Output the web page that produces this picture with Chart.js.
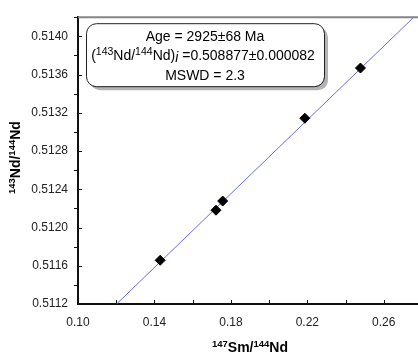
<!DOCTYPE html>
<html><head><meta charset="utf-8">
<script src="https://cdn.jsdelivr.net/npm/chart.js@4.4.1/dist/chart.umd.min.js"></script>
<style>html,body{margin:0;padding:0;overflow:hidden;background:#fff}#wrap{width:430px;height:356px;position:relative}</style>
</head><body><div id="wrap"><canvas id="c"></canvas></div>
<script>
// ---- data ----
const smNd = [0.1430, 0.1722, 0.1757, 0.2187, 0.2478];          // 147Sm/144Nd
const ndNd = [0.511657, 0.512181, 0.512277, 0.513143, 0.513668]; // 143Nd/144Nd
const isoLineX = [0.1202, 0.2757];
const isoLineY = [0.5112, 0.5142];
const xTicks = [0.10, 0.14, 0.18, 0.22, 0.26];
const xMinor = [0.12, 0.16, 0.20, 0.24, 0.28];
const yTicks = [0.5112, 0.5116, 0.5120, 0.5124, 0.5128, 0.5132, 0.5136, 0.5140];
const yMinor = [0.5114, 0.5118, 0.5122, 0.5126, 0.5130, 0.5134, 0.5138, 0.5142];
const ageText = 'Age = 2925±68 Ma';
const initText = ' =0.508877±0.000082';
const mswdText = 'MSWD = 2.3';

const FONT = "'Liberation Sans', Arial, Helvetica, sans-serif";
Chart.defaults.font.family = FONT;

function drawRich(ctx, parts, cx, baseline) {
  // parts: [text, size, weight, style, dy]
  let total = 0;
  parts.forEach(p => { ctx.font = `${p[3]||'normal'} ${p[2]||'normal'} ${p[1]}px ${FONT}`; p.w = ctx.measureText(p[0]).width; total += p.w; });
  let x = cx - total / 2;
  ctx.textAlign = 'left'; ctx.textBaseline = 'alphabetic';
  parts.forEach(p => { ctx.font = `${p[3]||'normal'} ${p[2]||'normal'} ${p[1]}px ${FONT}`; ctx.fillText(p[0], x, baseline + (p[4]||0)); x += p.w; });
}

const decor = {
  id: 'decor',
  beforeDatasetsDraw(chart) {
    const {ctx, chartArea: a, scales: {x, y}} = chart;
    ctx.save();
    // top frame line
    ctx.strokeStyle = '#858585'; ctx.lineWidth = 2;
    ctx.beginPath(); ctx.moveTo(a.left, a.top); ctx.lineTo(a.right + 2, a.top); ctx.stroke();
    // ticks
    ctx.strokeStyle = '#111'; ctx.lineWidth = 1;
    ctx.beginPath();
    xTicks.concat(xMinor).forEach(v => { const px = Math.round(x.getPixelForValue(v)) + 0.5; ctx.moveTo(px, a.bottom); ctx.lineTo(px, a.bottom - 4); });
    yTicks.forEach(v => { const py = Math.round(y.getPixelForValue(v)) + 0.5; ctx.moveTo(a.left, py); ctx.lineTo(a.left + 4, py); });
    yMinor.forEach(v => { const py = Math.round(y.getPixelForValue(v)) + 0.5; ctx.moveTo(a.left - 4, py); ctx.lineTo(a.left, py); });
    ctx.stroke();
    ctx.restore();
  },
  afterDraw(chart) {
    const {ctx, chartArea: a} = chart;
    ctx.save();
    // annotation box
    const bx = a.left + 8, by = a.top + 6, bw = 238, bh = 63, r = 10;
    const rr = (ox, oy) => { ctx.beginPath(); ctx.roundRect(bx + ox, by + oy, bw, bh, r); };
    ctx.fillStyle = '#b4b4b4'; rr(4, 4); ctx.fill();
    ctx.fillStyle = '#fff'; rr(0, 0); ctx.fill();
    ctx.strokeStyle = '#222'; ctx.lineWidth = 1; rr(0.5, 0.5); ctx.stroke();
    ctx.fillStyle = '#000';
    const cx = bx + bw / 2;
    drawRich(ctx, [[ageText, 14]], cx, by + 18);
    drawRich(ctx, [['(', 14], ['143', 10.5, 'normal', 'normal', -5], ['Nd/', 14], ['144', 10.5, 'normal', 'normal', -5], ['Nd)', 14], ['i', 14, 'normal', 'italic', 2], [initText, 14]], cx - 2, by + 37);
    drawRich(ctx, [[mswdText, 14]], cx, by + 57);
    // axis titles
    drawRich(ctx, [['147', 9.5, 'bold', 'normal', -5], ['Sm/', 14, 'bold'], ['144', 9.5, 'bold', 'normal', -5], ['Nd', 14, 'bold']], (a.left + a.right) / 2, 352);
    ctx.save();
    ctx.translate(20, (a.top + a.bottom) / 2 - 3);
    ctx.rotate(-Math.PI / 2);
    drawRich(ctx, [['143', 9.5, 'bold', 'normal', -5], ['Nd/', 14, 'bold'], ['144', 9.5, 'bold', 'normal', -5], ['Nd', 14, 'bold']], 0, 0);
    ctx.restore();
    ctx.restore();
  }
};

new Chart(document.getElementById('c'), {
  type: 'scatter',
  data: {
    datasets: [
      {
        label: 'Samples',
        data: smNd.map((v, i) => ({x: v, y: ndNd[i]})),
        pointStyle: 'rectRot', pointRadius: 5, pointHoverRadius: 5,
        backgroundColor: '#000', borderColor: '#000', borderWidth: 1, order: 0
      },
      {
        label: 'Isochron',
        data: isoLineX.map((v, i) => ({x: v, y: isoLineY[i]})),
        showLine: true, pointRadius: 0, borderColor: '#6a6ae8', borderWidth: 1, order: 1
      }
    ]
  },
  options: {
    responsive: true, maintainAspectRatio: false, animation: false, devicePixelRatio: 1,
    layout: {padding: {left: 0, top: 12, right: 8, bottom: 0}},
    plugins: {legend: {display: false}, tooltip: {enabled: false}},
    scales: {
      x: {
        type: 'linear', min: 0.10, max: 0.28,
        afterBuildTicks: s => { s.ticks = xTicks.map(v => ({value: v})); },
        afterFit: s => { s.height = 52; },
        ticks: {callback: v => v.toFixed(2), color: '#222', font: {size: 12}, padding: 11, maxRotation: 0, autoSkip: false},
        grid: {display: false, drawTicks: false},
        border: {display: true, color: '#111', width: 2}
      },
      y: {
        type: 'linear', min: 0.5112, max: 0.5142,
        afterBuildTicks: s => { s.ticks = yTicks.map(v => ({value: v})); },
        afterFit: s => { s.width = 78; },
        ticks: {callback: v => v.toFixed(4), color: '#222', font: {size: 12}, padding: 10, autoSkip: false},
        grid: {display: false, drawTicks: false},
        border: {display: true, color: '#111', width: 2}
      }
    }
  },
  plugins: [decor]
});
</script>
</body></html>
